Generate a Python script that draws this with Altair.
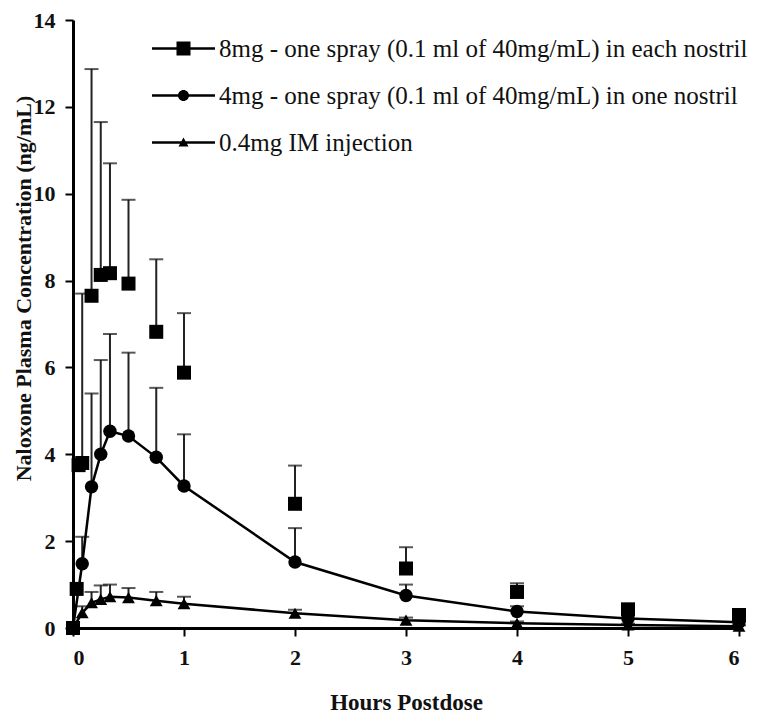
import altair as alt
import pandas as pd

series_names = [
    "8mg - one spray (0.1 ml of 40mg/mL) in each nostril",
    "4mg - one spray (0.1 ml of 40mg/mL) in one nostril",
    "0.4mg IM injection",
]

# 8 mg intranasal (two sprays)
t_8mg = [0, 0.033, 0.05, 0.083, 0.167, 0.25, 0.333, 0.5, 0.75, 1, 2, 3, 4, 5, 6]
mean_8mg = [0, 0.9, 3.75, 3.8, 7.65, 8.13, 8.17, 7.93, 6.82, 5.88, 2.86, 1.37, 0.83, 0.43, 0.3]
upper_8mg = [0, 0.9, 3.75, 7.7, 12.87, 11.65, 10.7, 9.86, 8.49, 7.25, 3.74, 1.86, 1.03, 0.55, 0.38]

# 4 mg intranasal (one spray)
t_4mg = [0, 0.083, 0.167, 0.25, 0.333, 0.5, 0.75, 1, 2, 3, 4, 5, 6]
mean_4mg = [0, 1.48, 3.25, 4.0, 4.53, 4.42, 3.93, 3.27, 1.52, 0.75, 0.38, 0.22, 0.13]
upper_4mg = [0, 2.1, 5.4, 6.17, 6.77, 6.34, 5.53, 4.46, 2.3, 1.0, 0.5, 0.3, 0.2]

# 0.4 mg IM
t_im = [0, 0.083, 0.167, 0.25, 0.333, 0.5, 0.75, 1, 2, 3, 4, 5, 6]
mean_im = [0, 0.35, 0.58, 0.66, 0.72, 0.7, 0.63, 0.56, 0.34, 0.18, 0.11, 0.07, 0.04]
upper_im = [0, 0.5, 0.83, 0.98, 1.0, 0.92, 0.83, 0.72, 0.42, 0.24, 0.15, 0.1, 0.06]

x_ticks = [0, 1, 2, 3, 4, 5, 6]
y_ticks = [0, 2, 4, 6, 8, 10, 12, 14]

rows = []
for name, ts, ms, us in [
    (series_names[0], t_8mg, mean_8mg, upper_8mg),
    (series_names[1], t_4mg, mean_4mg, upper_4mg),
    (series_names[2], t_im, mean_im, upper_im),
]:
    for t, m, u in zip(ts, ms, us):
        rows.append({"series": name, "t": t, "mean": m, "upper": u})
df = pd.DataFrame(rows)

FONT = "Liberation Serif"

x_enc = alt.X(
    "t:Q",
    scale=alt.Scale(domain=[0, 6], nice=False, zero=False),
    axis=alt.Axis(
        values=x_ticks, title="Hours Postdose", grid=False,
        labelFont=FONT, labelFontSize=22, labelFontWeight="bold", labelColor="#111",
        titleFont=FONT, titleFontSize=23, titleFontWeight="bold", titleColor="#111",
        labelPadding=11, titlePadding=23,
        domainColor="black", domainWidth=3, tickColor="black", tickWidth=2, tickSize=8,
    ),
)
y_enc = alt.Y(
    "mean:Q",
    scale=alt.Scale(domain=[0, 14], nice=False),
    axis=alt.Axis(
        values=y_ticks, title="Naloxone Plasma Concentration (ng/mL)", grid=False,
        labelFont=FONT, labelFontSize=22, labelFontWeight="bold", labelColor="#111",
        titleFont=FONT, titleFontSize=22, titleFontWeight="bold", titleColor="#111",
        labelPadding=10, titleX=-50, titleY=268, titleAngle=270,
        titleAlign="center", titleBaseline="middle",
        domainColor="black", domainWidth=3, tickColor="black", tickWidth=2, tickSize=8,
    ),
)

base = alt.Chart(df)

err_rule = base.transform_filter("datum.upper > datum.mean").mark_rule(
    color="#222", strokeWidth=2
).encode(x=x_enc, y=y_enc, y2="upper:Q")

err_cap = base.transform_filter("datum.upper > datum.mean").mark_tick(
    color="#111", thickness=2, size=14, orient="horizontal"
).encode(x=x_enc, y=alt.Y("upper:Q"))

lines = base.transform_filter(
    alt.FieldOneOfPredicate(field="series", oneOf=series_names[1:])
).mark_line(color="black", strokeWidth=2.5).encode(
    x=x_enc, y=y_enc, detail="series:N"
)

points = base.mark_point(filled=True, color="black", opacity=1).encode(
    x=x_enc,
    y=y_enc,
    shape=alt.Shape("series:N", scale=alt.Scale(domain=series_names,
                    range=["square", "circle", "triangle-up"]), legend=None),
    size=alt.Size("series:N", scale=alt.Scale(domain=series_names,
                  range=[196, 165, 95]), legend=None),
)

line_path = "M-3.15,-0.13L3.15,-0.13L3.15,0.13L-3.15,0.13Z"
legend_paths = [
    line_path + "M-0.7,-0.7L0.7,-0.7L0.7,0.7L-0.7,0.7Z",
    line_path + "M0.55,0A0.55,0.55 0 1,1 -0.55,0A0.55,0.55 0 1,1 0.55,0Z",
    line_path + "M0,-0.5L0.5,0.4L-0.5,0.4Z",
]

legend_layer = base.transform_filter("false").mark_point(
    filled=True, color="black", opacity=1
).encode(
    x=x_enc,
    y=y_enc,
    shape=alt.Shape(
        "series:N",
        scale=alt.Scale(domain=series_names, range=legend_paths),
        legend=alt.Legend(
            orient="none", legendX=98, legendY=16, title=None,
            symbolSize=400, symbolStrokeWidth=0, symbolFillColor="black",
            labelFont=FONT, labelFontSize=25, labelColor="#111", labelLimit=0,
            labelOffset=23, rowPadding=21,
        ),
    ),
)

chart = alt.layer(err_rule, err_cap, lines, points, legend_layer).resolve_scale(
    shape="independent", size="independent"
).properties(
    width=666, height=608,
    autosize="none",
    padding={"left": 65, "top": 12, "right": 10, "bottom": 90},
).configure_view(stroke=None)

chart.save("out.html", embed_options={"renderer": "svg", "actions": False})
